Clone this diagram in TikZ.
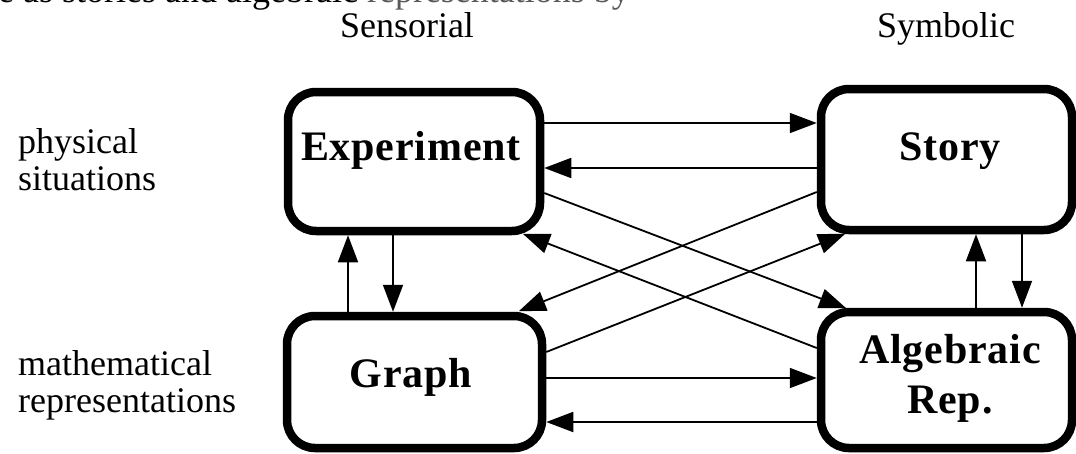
\documentclass[tikz,border=0pt]{standalone}
\usepackage{fontspec}
\setmainfont{Liberation Serif}
\newfontfamily\boxfont{Liberation Serif}[LetterSpace=2]
\usetikzlibrary{arrows.meta}
\tikzset{
  rbox/.style={draw, line width=8.5pt, rounded corners=28pt, rectangle, inner sep=0pt},
  boxlabel/.style={font=\boxfont\bfseries\fontsize{42}{48}\selectfont, inner sep=0pt, anchor=base},
  plain/.style={font=\fontsize{36}{38}\selectfont, inner sep=0pt},
  link/.style={line width=1.8pt, -{Triangle[length=27pt,width=20pt]}, shorten >=0pt}
}
\begin{document}
\begin{tikzpicture}[x=1pt,y=-1pt]
\useasboundingbox (0,0) rectangle (1076,453);

% clipped caption line above the figure
\node[plain, anchor=base west] (caption) at (-2,2) {e as stories and algebraic \textcolor{black!65}{representations by}};

% column and row headings
\node[plain, anchor=base] (sens) at (407,37) {Sensorial};
\node[plain, anchor=base] (symb) at (946,37) {Symbolic};
\node[plain, anchor=base west] (phys1) at (18,153) {physical};
\node[plain, anchor=base west] (phys2) at (18,190) {situations};
\node[plain, anchor=base west] (math1) at (18,375) {mathematical};
\node[plain, anchor=base west] (math2) at (18,412) {representations};

% the four representation boxes
\node[rbox, minimum width=252pt, minimum height=139pt] (exp) at (414,161.5) {};
\node[rbox, minimum width=255pt, minimum height=132pt] (graph) at (414.5,382) {};
\node[rbox, minimum width=251pt, minimum height=141pt] (story) at (946.5,159.5) {};
\node[rbox, minimum width=251pt, minimum height=136pt] (alg) at (946.5,380) {};

\node[boxlabel] (expT) at (411,160) {Experiment};
\node[boxlabel] (graphT) at (411,387) {Graph};
\node[boxlabel] (storyT) at (950,160) {Story};
\node[boxlabel] (algT1) at (950,363) {Algebraic};
\node[boxlabel] (algT2) at (950,413) {Rep.};

% horizontal links
\draw[link] ([yshift=38.5pt]exp.east) -- ([yshift=36.5pt]story.west);
\draw[link] ([yshift=-8.5pt]story.west) -- ([yshift=-6.5pt]exp.east);
\draw[link] ([yshift=4pt]graph.east) -- ([yshift=2pt]alg.west);
\draw[link] ([yshift=-42pt]alg.west) -- ([yshift=-40pt]graph.east);

% vertical links
\draw[link] ([xshift=-66.5pt]graph.north) -- ([xshift=-66pt]exp.south);
\draw[link] ([xshift=-21pt]exp.south) -- ([xshift=-21.5pt]graph.north);
\draw[link] ([xshift=29.5pt]alg.north) -- ([xshift=29.5pt]story.south);
\draw[link] ([xshift=75.5pt]story.south) -- ([xshift=75.5pt]alg.north);

% diagonal links
\draw[link] ([yshift=-31.5pt]exp.east) -- ([xshift=29.5pt,yshift=-0.5pt]alg.north west);
\draw[link] ([yshift=32pt]alg.west) -- ([xshift=-21.5pt,yshift=1.5pt]exp.south east);
\draw[link] ([yshift=-32.5pt]story.west) -- ([xshift=-27.5pt,yshift=0.5pt]graph.north east);
\draw[link] ([yshift=30pt]graph.east) -- ([xshift=28.5pt,yshift=0.5pt]story.south west);
\end{tikzpicture}
\end{document}
